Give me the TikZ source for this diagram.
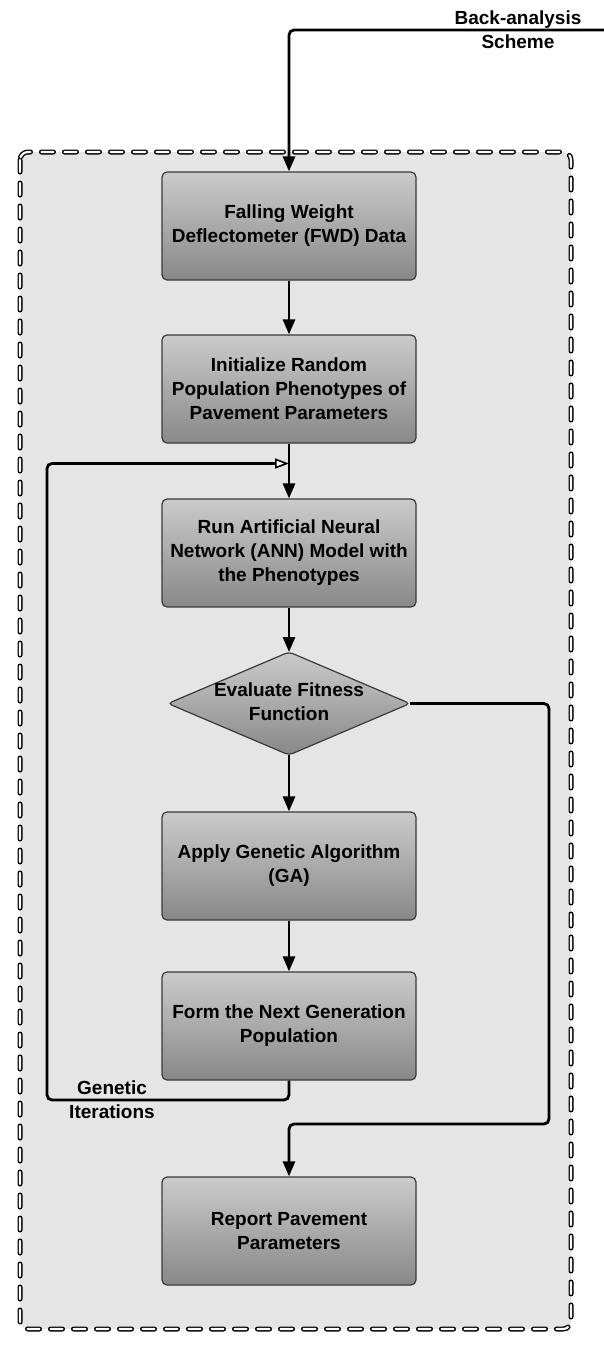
\documentclass[tikz,border=0pt]{standalone}
\usepackage{fontspec}
\setmainfont{Liberation Sans}
\usetikzlibrary{arrows.meta}
\definecolor{panel}{HTML}{E5E5E5}
\definecolor{edge}{HTML}{3A3A3A}
\definecolor{gtop}{HTML}{CBCBCB}
\definecolor{gbot}{HTML}{888888}
\tikzset{
  txt/.style={align=center, font=\fontsize{19}{24}\selectfont\bfseries, inner sep=0pt},
  stepbox/.style={txt, draw=edge, line width=1.2pt, rounded corners=5pt,
    top color=gtop, bottom color=gbot,
    minimum width=254pt, minimum height=108pt},
  conn/.style={line width=2.8pt, rounded corners=5pt, -{Triangle[length=15pt,width=12pt]}},
  loopconn/.style={line width=2.8pt, rounded corners=5pt, -{Triangle[open,fill=white,length=14pt,width=10pt,line width=1.6pt]}},
  dashborder/.style={line width=5pt, dash pattern=on 12pt off 11pt, line cap=round, rounded corners=8pt}
}
\begin{document}
\begin{tikzpicture}[x=1pt,y=-1pt]
\useasboundingbox (0,0) rectangle (604,1350);
% panel
\fill[panel, rounded corners=8pt] (20,152) rectangle (571,1329);
\draw[dashborder] (20,152) rectangle (571,1329);
\draw[dashborder, white!92!panel, line width=2.2pt] (20,152) rectangle (571,1329);
% nodes
\node[stepbox] (b1) at (289,226) {Falling Weight\\Deflectometer (FWD) Data};
\node[stepbox] (b2) at (289,389) {Initialize Random\\Population Phenotypes of\\Pavement Parameters};
\node[stepbox] (b3) at (289,553) {Run Artificial Neural\\Network (ANN) Model with\\the Phenotypes};
\coordinate (dn) at (289,652);
\coordinate (ds) at (289,755);
\coordinate (dw) at (168,703.5);
\coordinate (de) at (410,703.5);
\shade[top color=gtop, bottom color=gbot, rounded corners=4pt] (dn) -- (de) -- (ds) -- (dw) -- cycle;
\draw[edge, line width=1.2pt, rounded corners=4pt] (dn) -- (de) -- (ds) -- (dw) -- cycle;
\node[txt] (d) at (289,702) {Evaluate Fitness\\Function};
\node[stepbox] (b4) at (289,866) {Apply Genetic Algorithm\\(GA)};
\node[stepbox] (b5) at (289,1026) {Form the Next Generation\\Population};
\node[stepbox] (b6) at (289,1231) {Report Pavement\\Parameters};
\node[txt] (top) at (518,30) {Back-analysis\\Scheme};
\node[txt] (gi) at (112,1100) {Genetic\\Iterations};
% coordinates
\coordinate (in) at (604,30);
\coordinate (lb) at (47,1100);
\coordinate (lt) at (47,463.5);
\coordinate (m) at (289,463.5);
\coordinate (rt) at (549,703.5);
\coordinate (rb) at (549,1124);
% connectors
\draw[conn] (in) -| (b1.north);
\draw[conn] (b1.south) -- (b2.north);
\draw[conn] (b2.south) -- (b3.north);
\draw[conn] (b3.south) -- (dn);
\draw[conn] (ds) -- (b4.north);
\draw[conn] (b4.south) -- (b5.north);
\draw[loopconn] (b5.south) |- (lb) -- (lt) -- (m);
\draw[conn] (de) -- (rt) -- (rb) -| (b6.north);
\end{tikzpicture}
\end{document}
